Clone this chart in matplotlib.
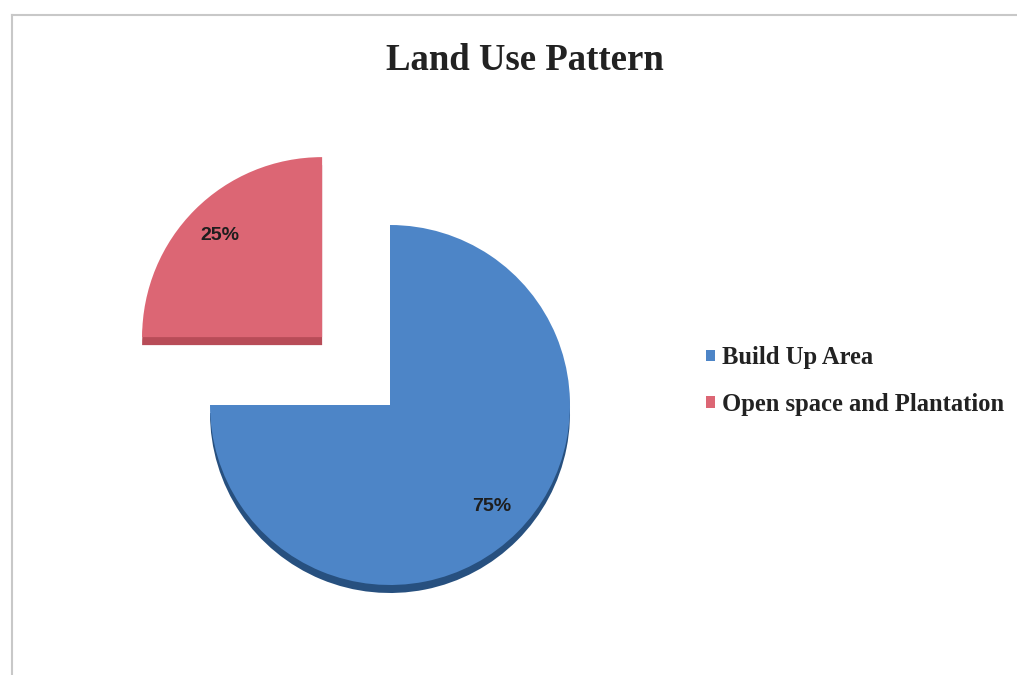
import matplotlib.pyplot as plt
from matplotlib.lines import Line2D

# data
categories = ['Build Up Area', 'Open space and Plantation']
shares = [75, 25]
colors = ['#4D85C7', '#DC6674']
rim_colors = ['#27507F', '#B84C58']

W, H = 1017, 675
fig = plt.figure(figsize=(W / 100, H / 100), dpi=100)
ax = fig.add_axes([0, 0, 1, 1])

center = (390, H - 405)
radius = 180
explode = [0, 96]

# darker copy shifted down to fake the 3D rim
ax.pie(shares, colors=rim_colors, startangle=90, counterclock=False,
       explode=explode, radius=radius, center=(center[0], center[1] - 8))

wedges, texts, autotexts = ax.pie(
    shares, colors=colors, startangle=90, counterclock=False,
    explode=explode, radius=radius, center=center,
    autopct='%1.0f%%', pctdistance=0.8,
    textprops=dict(family='Liberation Sans', fontweight='bold',
                   fontsize=14, color='#1e1e1e'))

ax.set_xlim(0, W)
ax.set_ylim(0, H)
ax.set_aspect('auto')
ax.axis('off')

fig.text(525 / W, 1 - 60 / H, 'Land Use Pattern', ha='center', va='center',
         family='Liberation Serif', fontweight='bold', fontsize=26.5,
         color='#222222')

leg = fig.legend(wedges, categories, loc='center left',
                 bbox_to_anchor=(684 / W, 1 - 381 / H), frameon=False,
                 handlelength=0.35, handleheight=0.35, handletextpad=0.3,
                 labelspacing=0.95,
                 prop=dict(family='Liberation Serif', weight='bold', size=17.7))
for t in leg.get_texts():
    t.set_color('#222222')

# scanned frame edges
fig.add_artist(Line2D([12 / W, 1], [1 - 15 / H, 1 - 15 / H], color='#c8c8c8', lw=1.5))
fig.add_artist(Line2D([12 / W, 12 / W], [0, 1 - 15 / H], color='#c8c8c8', lw=1.5))

fig.savefig('out.png', dpi=100, facecolor='white')
